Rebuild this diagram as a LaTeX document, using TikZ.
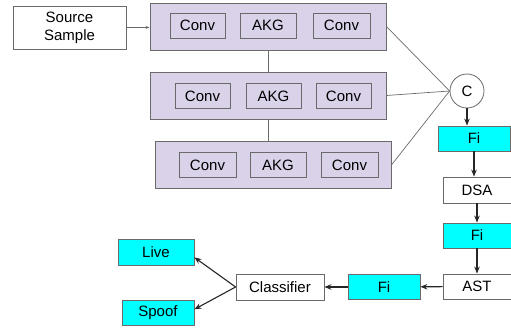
\documentclass[tikz,border=0pt]{standalone}
\usepackage{fontspec}
\setmainfont{Liberation Sans}
\usetikzlibrary{arrows.meta}
\definecolor{lila}{HTML}{D9D2E9}
\definecolor{cian}{HTML}{00FFFF}
\definecolor{borde}{HTML}{6A6A6A}
\begin{document}
\begin{tikzpicture}[x=1pt, y=-1pt, >={Stealth[length=7pt,width=5.5pt]},
  caja/.style={draw=borde, line width=0.8pt, fill=white, minimum height=25pt, inner sep=0pt, font=\fontsize{15}{17}\selectfont},
  bloque/.style={draw=borde, line width=0.9pt, fill=lila, minimum width=236pt, minimum height=47pt, inner sep=0pt},
  capa/.style={caja, fill=lila},
  rasgo/.style={caja, fill=cian},
  flecha/.style={->, line width=1.1pt, black!85},
  enlace/.style={line width=0.7pt, borde}]
\useasboundingbox (0,0) rectangle (511,329);
% Entrada
\node[caja, minimum width=113pt, minimum height=43pt, align=center] (src) at (69.5,28) {Source\\[1pt]Sample};
% Bloques de extraccion
\node[bloque] (blk1) at (268,26.5) {};
\node[bloque] (blk2) at (268,95.5) {};
\node[bloque] (blk3) at (273,165) {};
% Capas del bloque 1
\node[capa, minimum width=55pt] (conv11) at (197.5,25.5) {Conv};
\node[capa, minimum width=56pt] (akg1) at (268,25.5) {AKG};
\node[capa, minimum width=57pt] (conv12) at (341.5,25.5) {Conv};
% Capas del bloque 2
\node[capa, minimum width=55pt] (conv21) at (202.5,96) {Conv};
\node[capa, minimum width=55pt] (akg2) at (273.5,96) {AKG};
\node[capa, minimum width=55pt] (conv22) at (343.5,96) {Conv};
% Capas del bloque 3
\node[capa, minimum width=57pt] (conv31) at (207.5,165) {Conv};
\node[capa, minimum width=56pt] (akg3) at (278,165) {AKG};
\node[capa, minimum width=57pt] (conv32) at (349.5,165) {Conv};
% Concatenacion
\node[draw=borde, line width=0.8pt, fill=white, circle, minimum size=34pt, inner sep=0pt, font=\fontsize{15}{17}\selectfont] (c) at (467,91) {C};
% Cadena de la derecha
\node[rasgo, minimum width=72pt] (fi1) at (474,138.5) {Fi};
\node[caja, minimum width=68pt, minimum height=26pt] (dsa) at (477,190) {DSA};
\node[rasgo, minimum width=68pt] (fi2) at (477,235.5) {Fi};
\node[caja, minimum width=68pt] (ast) at (477,286.5) {AST};
% Fila inferior
\node[rasgo, minimum width=72pt] (fi3) at (384,287) {Fi};
\node[caja, minimum width=88pt, minimum height=26pt] (cls) at (280,287) {Classifier};
\node[rasgo, minimum width=76pt, minimum height=26pt] (live) at (156,252) {Live};
\node[rasgo, minimum width=72pt] (spoof) at (158,312.5) {Spoof};
% Conexiones entre bloques
\draw[-{Stealth[length=4pt,width=3pt]}, line width=0.7pt, borde] (src) -- (blk1);
\draw[enlace] (blk1.south) -- (blk2.north);
\draw[enlace] (blk2.south) -- (blk2.south |- blk3.north);
\draw[enlace] (blk1.east) -- (c.west);
\draw[enlace] (blk2.east) -- (c.west);
\draw[enlace] (blk3.east) -- (c.west);
% Flechas de la cadena
\draw[flecha] (c.south) -- (c.south |- fi1.north);
\draw[flecha] (fi1) -- (fi1 |- dsa.north);
\draw[flecha] (dsa) -- (fi2);
\draw[flecha] (fi2) -- (ast);
\draw[flecha] (ast) -- (fi3);
\draw[flecha] (fi3) -- (cls);
\draw[flecha] (cls.west) -- (live.-8);
\draw[flecha] (cls.west) -- (spoof.5);
\end{tikzpicture}
\end{document}
